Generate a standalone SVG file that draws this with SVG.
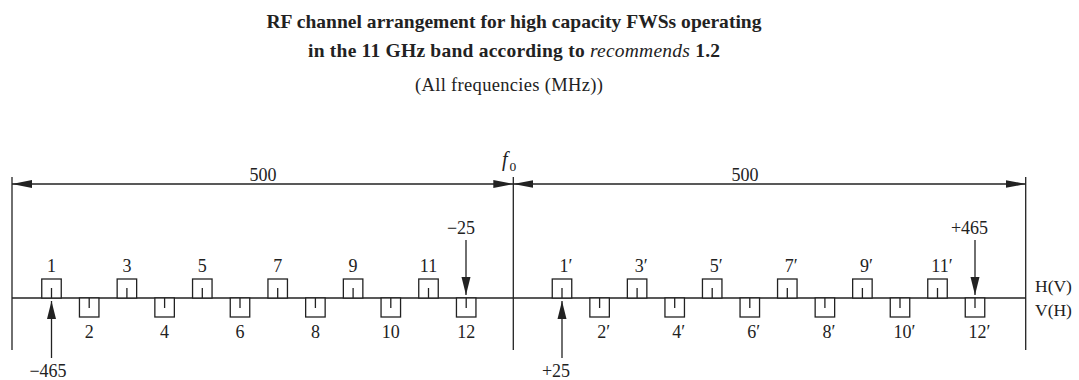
<svg xmlns="http://www.w3.org/2000/svg" width="1079" height="380" viewBox="0 0 1079 380">
<defs>
<style>
text{font-family:"Liberation Serif","Times New Roman",serif;fill:#222}
.t{font-size:19.5px;font-weight:bold}
.s{font-size:18.5px}
.l{font-size:18px;text-anchor:middle}
.ln{stroke:#222;stroke-width:1.3;fill:none}
.box{stroke:#222;stroke-width:1.3;fill:#fff}
</style>
<marker id="dim" markerWidth="20" markerHeight="10" refX="18" refY="3.5" orient="auto-start-reverse" markerUnits="userSpaceOnUse" viewBox="0 0 18 7"><path d="M0,0 L18,3.5 L0,7 Z" fill="#222"/></marker>
<marker id="ar" markerWidth="18" markerHeight="10" refX="16" refY="4" orient="auto" markerUnits="userSpaceOnUse" viewBox="0 0 16 8"><path d="M0,0 L16,4 L0,8 Z" fill="#222"/></marker>
<g id="up"><rect class="box" x="-9.75" y="-19" width="19.5" height="19"/><line class="ln" x1="0" y1="0" x2="0" y2="-10"/></g>
<g id="dn"><rect class="box" x="-9.75" y="0" width="19.5" height="19"/><line class="ln" x1="0" y1="0" x2="0" y2="10"/></g>
</defs>
<rect width="1079" height="380" fill="#fff"/>
<g id="title">
<text class="t" x="514" y="28" text-anchor="middle" textLength="495">RF channel arrangement for high capacity FWSs operating</text>
<text class="t" x="514" y="57" text-anchor="middle" textLength="412">in the 11 GHz band according to <tspan font-style="italic" font-weight="normal">recommends</tspan> 1.2</text>
<text class="s" x="509" y="91" text-anchor="middle" textLength="188">(All frequencies (MHz))</text>
</g>
<g id="connectors">
<line class="ln" x1="12" y1="177" x2="12" y2="350"/>
<line class="ln" x1="513.3" y1="177" x2="513.3" y2="350"/>
<line class="ln" x1="1025.7" y1="177" x2="1025.7" y2="350"/>
<line class="ln" x1="12" y1="184" x2="513.3" y2="184" marker-start="url(#dim)" marker-end="url(#dim)"/>
<line class="ln" x1="1025.7" y1="184" x2="513.3" y2="184" marker-start="url(#dim)" marker-end="url(#dim)"/>
<line class="ln" x1="12" y1="298" x2="1025.7" y2="298"/>
<line class="ln" x1="466" y1="240" x2="466" y2="295" marker-end="url(#ar)"/>
<line class="ln" x1="975" y1="240" x2="975" y2="295" marker-end="url(#ar)"/>
<line class="ln" x1="51.5" y1="358" x2="51.5" y2="301" marker-end="url(#ar)"/>
<line class="ln" x1="562" y1="358" x2="562" y2="301" marker-end="url(#ar)"/>
</g>
<g id="labels">
<text class="l" x="263" y="181">500</text>
<text class="l" x="745" y="181">500</text>
<text x="502" y="166" font-size="20" font-style="italic">f</text><text x="509.5" y="171" font-size="13.5">0</text>
<text class="l" x="461" y="234">−25</text>
<text class="l" x="969.5" y="234">+465</text>
<text class="l" x="48" y="377">−465</text>
<text class="l" x="556" y="377">+25</text>
<text x="1035" y="291.5" font-size="17.5">H(V)</text>
<text x="1035" y="315.5" font-size="17.5">V(H)</text>
</g>
<g id="ch1"><use href="#up" x="51.5" y="298"/><text class="l" x="51.5" y="271.5">1</text></g>
<g id="ch2"><use href="#dn" x="89.2" y="298"/><text class="l" x="89.2" y="338">2</text></g>
<g id="ch3"><use href="#up" x="126.9" y="298"/><text class="l" x="126.9" y="271.5">3</text></g>
<g id="ch4"><use href="#dn" x="164.6" y="298"/><text class="l" x="164.6" y="338">4</text></g>
<g id="ch5"><use href="#up" x="202.3" y="298"/><text class="l" x="202.3" y="271.5">5</text></g>
<g id="ch6"><use href="#dn" x="240" y="298"/><text class="l" x="240" y="338">6</text></g>
<g id="ch7"><use href="#up" x="277.7" y="298"/><text class="l" x="277.7" y="271.5">7</text></g>
<g id="ch8"><use href="#dn" x="315.4" y="298"/><text class="l" x="315.4" y="338">8</text></g>
<g id="ch9"><use href="#up" x="353.1" y="298"/><text class="l" x="353.1" y="271.5">9</text></g>
<g id="ch10"><use href="#dn" x="390.8" y="298"/><text class="l" x="390.8" y="338">10</text></g>
<g id="ch11"><use href="#up" x="428.5" y="298"/><text class="l" x="428.5" y="271.5">11</text></g>
<g id="ch12"><use href="#dn" x="466.2" y="298"/><text class="l" x="466.2" y="338">12</text></g>
<g id="ch1p"><use href="#up" x="562" y="298"/><text class="l" x="566" y="271.5">1′</text></g>
<g id="ch2p"><use href="#dn" x="599.6" y="298"/><text class="l" x="603.6" y="338">2′</text></g>
<g id="ch3p"><use href="#up" x="637.1" y="298"/><text class="l" x="641.1" y="271.5">3′</text></g>
<g id="ch4p"><use href="#dn" x="674.7" y="298"/><text class="l" x="678.7" y="338">4′</text></g>
<g id="ch5p"><use href="#up" x="712.2" y="298"/><text class="l" x="716.2" y="271.5">5′</text></g>
<g id="ch6p"><use href="#dn" x="749.8" y="298"/><text class="l" x="753.8" y="338">6′</text></g>
<g id="ch7p"><use href="#up" x="787.3" y="298"/><text class="l" x="791.3" y="271.5">7′</text></g>
<g id="ch8p"><use href="#dn" x="824.9" y="298"/><text class="l" x="828.9" y="338">8′</text></g>
<g id="ch9p"><use href="#up" x="862.4" y="298"/><text class="l" x="866.4" y="271.5">9′</text></g>
<g id="ch10p"><use href="#dn" x="900" y="298"/><text class="l" x="904.5" y="338">10′</text></g>
<g id="ch11p"><use href="#up" x="937.5" y="298"/><text class="l" x="942" y="271.5">11′</text></g>
<g id="ch12p"><use href="#dn" x="975" y="298"/><text class="l" x="979.5" y="338">12′</text></g>
</svg>
